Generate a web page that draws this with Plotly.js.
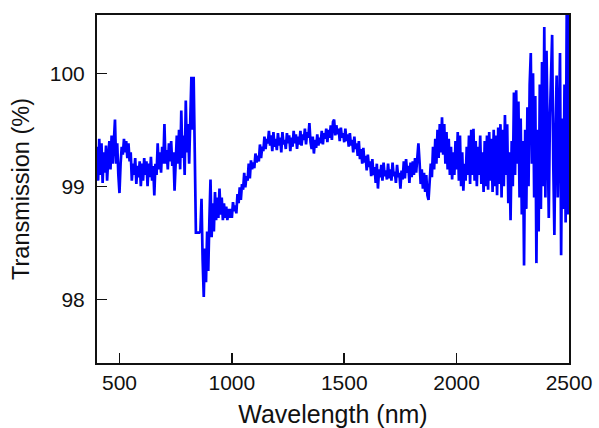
<!DOCTYPE html>
<html>
<head>
<meta charset="utf-8">
<script src="https://cdn.plot.ly/plotly-3.0.1.min.js"></script>
<style>
  html, body { margin: 0; padding: 0; background: #ffffff; }
  #chart { width: 599px; height: 428px; }
</style>
</head>
<body>
<div id="chart"></div>
<script>
// Wavelength grid (nm): 400 to 2500 in 5 nm steps
const wlStart = 400;
const wlStep = 5;

// Transmission (%), one row per 100 nm
const t400  = [99.35, 99.05, 99.42, 99.10, 99.38, 99.03, 99.30, 99.12, 99.36, 99.05, 99.25, 99.40, 99.15, 99.45, 99.20, 99.35, 99.59, 99.20, 99.38, 99.10];
const t500  = [98.94, 99.20, 99.35, 99.28, 99.42, 99.30, 99.40, 99.25, 99.38, 99.22, 99.30, 99.05, 99.20, 99.10, 99.25, 99.02, 99.18, 99.08, 99.22, 99.00];
const t600  = [99.20, 99.05, 99.25, 99.10, 99.22, 99.00, 99.20, 99.08, 99.26, 99.05, 99.18, 98.92, 99.20, 99.10, 99.38, 99.15, 99.30, 99.12, 99.35, 99.20];
const t700  = [99.55, 99.20, 99.32, 99.15, 99.38, 99.22, 99.40, 99.18, 99.30, 98.96, 99.30, 99.45, 99.20, 99.50, 99.15, 99.67, 99.25, 99.45, 99.10, 99.76];
const t800  = [99.30, 99.55, 99.20, 99.60, 99.97, 99.50, 99.97, 99.30, 98.59, 98.59, 98.59, 98.59, 98.60, 98.89, 98.35, 98.02, 98.45, 98.15, 98.60, 98.25];
const t900  = [98.70, 99.06, 98.55, 98.85, 98.60, 98.95, 98.70, 98.90, 98.72, 98.98, 98.75, 98.90, 98.70, 98.85, 98.72, 98.82, 98.70, 98.80, 98.72, 98.80];
const t1000 = [98.72, 98.86, 98.78, 98.83, 98.76, 98.93, 98.85, 98.99, 98.88, 99.02, 98.97, 99.12, 98.99, 99.09, 99.05, 99.20, 99.07, 99.23, 99.15, 99.21];
const t1100 = [99.16, 99.29, 99.21, 99.27, 99.22, 99.37, 99.25, 99.35, 99.31, 99.44, 99.33, 99.42, 99.38, 99.49, 99.36, 99.45, 99.31, 99.48, 99.35, 99.42];
const t1200 = [99.32, 99.47, 99.36, 99.43, 99.30, 99.48, 99.37, 99.41, 99.33, 99.47, 99.38, 99.45, 99.31, 99.43, 99.35, 99.49, 99.38, 99.46, 99.33, 99.44];
const t1300 = [99.37, 99.49, 99.36, 99.46, 99.41, 99.51, 99.37, 99.48, 99.43, 99.56, 99.39, 99.33, 99.44, 99.29, 99.41, 99.34, 99.46, 99.36, 99.43, 99.38];
const t1400 = [99.49, 99.37, 99.47, 99.42, 99.51, 99.39, 99.50, 99.43, 99.54, 99.41, 99.57, 99.59, 99.45, 99.54, 99.46, 99.51, 99.40, 99.52, 99.43, 99.47];
const t1500 = [99.39, 99.51, 99.40, 99.46, 99.35, 99.47, 99.36, 99.41, 99.30, 99.44, 99.33, 99.38, 99.27, 99.40, 99.24, 99.33, 99.20, 99.34, 99.21, 99.27];
const t1600 = [99.14, 99.28, 99.17, 99.22, 99.09, 99.24, 99.10, 99.17, 99.03, 99.20, 98.98, 99.15, 99.08, 99.19, 99.05, 99.21, 99.09, 99.14, 99.06, 99.20];
const t1700 = [99.07, 99.15, 99.05, 99.21, 99.09, 99.13, 99.03, 99.19, 99.08, 99.12, 98.98, 99.14, 99.06, 99.22, 99.07, 99.24, 99.12, 99.18, 99.03, 99.21];
const t1800 = [99.08, 99.22, 99.10, 99.25, 99.12, 99.29, 99.38, 99.22, 99.02, 99.15, 98.98, 99.12, 98.95, 99.10, 98.92, 98.88, 99.05, 99.20, 99.08, 99.35];
const t1900 = [99.15, 99.42, 99.20, 99.50, 99.25, 99.55, 99.30, 99.61, 99.28, 99.55, 99.20, 99.48, 99.15, 99.42, 99.10, 99.35, 99.06, 99.30, 99.10, 99.40];
const t2000 = [99.15, 99.48, 99.05, 99.45, 99.00, 99.30, 98.96, 99.20, 99.05, 99.35, 99.10, 99.45, 99.02, 99.50, 99.10, 99.51, 99.05, 99.40, 99.00, 99.35];
const t2100 = [99.10, 99.45, 99.02, 99.30, 98.95, 99.40, 99.00, 99.45, 98.97, 99.48, 99.05, 99.42, 98.95, 99.50, 99.00, 99.45, 98.92, 99.52, 99.02, 99.55];
const t2200 = [98.90, 99.50, 99.00, 99.63, 99.10, 99.55, 98.85, 99.30, 98.70, 99.40, 99.00, 99.83, 99.10, 99.85, 99.20, 99.75, 98.90, 99.60, 98.75, 99.40];
const t2300 = [98.30, 99.50, 98.80, 99.70, 99.00, 99.90, 100.18, 99.20, 100.00, 98.90, 99.80, 98.32, 99.50, 98.60, 99.90, 98.80, 100.10, 99.00, 100.41, 98.90];
const t2400 = [100.20, 99.30, 98.72, 99.60, 100.00, 100.34, 99.20, 98.57, 99.50, 99.98, 98.90, 99.70, 100.18, 98.39, 99.60, 98.80, 99.90, 98.68, 100.60, 98.75];
const t2500 = [100.60];

const transmission = [].concat(t400, t500, t600, t700, t800, t900, t1000, t1100, t1200,
  t1300, t1400, t1500, t1600, t1700, t1800, t1900, t2000, t2100, t2200, t2300, t2400, t2500);
const wavelength = transmission.map((_, i) => wlStart + i * wlStep);

const xTickVals = [500, 1000, 1500, 2000, 2500];
const yTickVals = [98, 99, 100];

const fontFam = '"Liberation Sans", Arial, sans-serif';

const trace = {
  x: wavelength,
  y: transmission,
  type: 'scatter',
  mode: 'lines',
  line: { color: '#0000ff', width: 2.7 },
  hoverinfo: 'skip'
};

const layout = {
  width: 599,
  height: 428,
  margin: { l: 97, r: 30, t: 15, b: 65 },
  paper_bgcolor: '#ffffff',
  plot_bgcolor: '#ffffff',
  showlegend: false,
  font: { family: fontFam, color: '#111111', size: 21 },
  xaxis: {
    range: [400, 2500],
    tickvals: xTickVals,
    ticks: 'inside',
    ticklen: 10,
    tickwidth: 1.5,
    tickcolor: '#111111',
    showline: true,
    linecolor: '#111111',
    linewidth: 2,
    mirror: true,
    showgrid: false,
    zeroline: false,
    tickfont: { size: 21, family: fontFam, color: '#111111' },
    title: { text: 'Wavelength (nm)', font: { size: 25, family: fontFam, color: '#111111' }, standoff: 13 },
    automargin: false
  },
  yaxis: {
    range: [97.436, 100.516],
    tickvals: yTickVals,
    ticks: 'inside',
    ticklen: 10,
    tickwidth: 1.5,
    tickcolor: '#111111',
    showline: true,
    linecolor: '#111111',
    linewidth: 2,
    mirror: true,
    showgrid: false,
    zeroline: false,
    ticklabelstandoff: 6,
    tickfont: { size: 21, family: fontFam, color: '#111111' },
    title: { text: 'Transmission (%)', font: { size: 23.5, family: fontFam, color: '#111111' }, standoff: 14 },
    automargin: false
  }
};

Plotly.newPlot('chart', [trace], layout, { staticPlot: true, displayModeBar: false });
</script>
</body>
</html>
